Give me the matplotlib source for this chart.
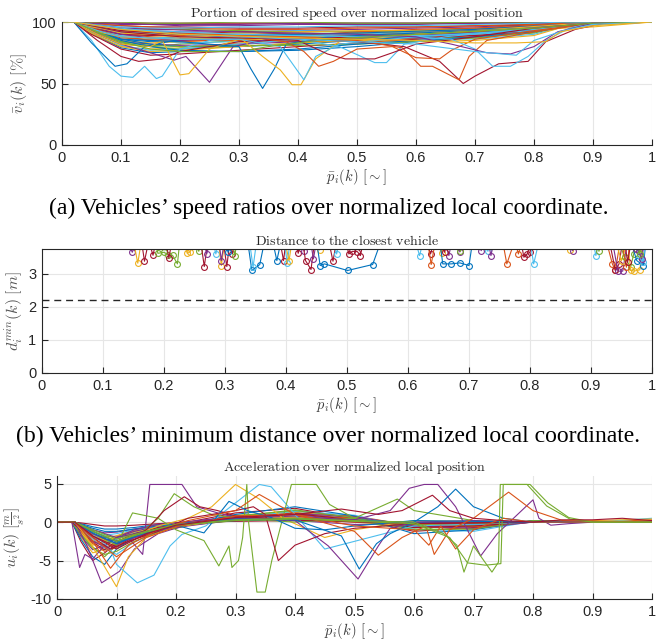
import matplotlib
matplotlib.use('Agg')
import matplotlib.pyplot as plt

plt.rcParams['mathtext.fontset'] = 'cm'
plt.rcParams['axes.unicode_minus'] = False
plt.rcParams['font.family'] = ['Liberation Sans', 'DejaVu Sans']

# MATLAB default colour order
colors = ['#0072BD', '#D95319', '#EDB120', '#7E2F8E', '#77AC30', '#4DBEEE', '#A2142F']

# ---------------- (a) speed ratio [%] ----------------
speed_grid = [0, 0.02, 0.05, 0.1, 0.15, 0.2, 0.3, 0.4, 0.5, 0.6, 0.7, 0.8, 0.85, 0.9, 1.0]
speed_bg = [
    [100, 100, 93, 86, 84, 85, 88, 90, 91, 92, 94, 97, 99, 100, 100],
    [100, 100, 95, 90, 88, 87, 86, 88, 90, 93, 95, 98, 99, 100, 100],
    [100, 100, 90, 80, 78, 79, 83, 86, 88, 90, 93, 96, 98, 99, 100],
    [100, 100, 97, 94, 93, 92, 92, 93, 94, 95, 96, 98, 99, 100, 100],
    [100, 100, 92, 82, 80, 82, 85, 84, 86, 89, 92, 95, 98, 99, 100],
    [100, 100, 94, 88, 85, 83, 84, 87, 89, 88, 90, 94, 97, 99, 100],
    [100, 100, 98, 97, 96, 96, 95, 95, 96, 96, 97, 98, 99, 100, 100],
    [100, 100, 91, 79, 75, 76, 76, 77, 80, 84, 88, 93, 97, 99, 100],
    [100, 100, 96, 92, 90, 89, 90, 91, 90, 89, 90, 95, 98, 99, 100],
    [100, 100, 93, 85, 83, 84, 86, 85, 84, 86, 89, 92, 97, 99, 100],
    [100, 100, 99, 98, 98, 97, 97, 98, 98, 98, 99, 99, 100, 100, 100],
    [100, 100, 92, 83, 80, 78, 80, 83, 86, 88, 87, 91, 96, 99, 100],
    [100, 100, 95, 89, 87, 88, 91, 93, 92, 90, 91, 94, 97, 99, 100],
    [100, 100, 90, 78, 73, 74, 77, 80, 83, 86, 90, 94, 97, 99, 100],
    [100, 100, 97, 93, 91, 90, 89, 88, 87, 88, 91, 95, 98, 99, 100],
    [100, 100, 94, 87, 86, 86, 85, 84, 85, 87, 89, 93, 97, 99, 100],
    [100, 100, 96, 91, 89, 88, 88, 89, 91, 92, 93, 96, 98, 100, 100],
    [100, 100, 93, 84, 82, 81, 82, 84, 87, 89, 91, 93, 97, 99, 100],
    [100, 100, 98, 95, 94, 94, 93, 92, 92, 93, 94, 97, 99, 100, 100],
    [100, 100, 92, 81, 77, 78, 82, 86, 88, 87, 86, 90, 96, 99, 100],
    [100, 100, 95, 90, 89, 90, 92, 90, 88, 87, 89, 93, 97, 99, 100],
    [100, 100, 94, 86, 82, 80, 80, 82, 85, 88, 91, 94, 97, 99, 100],
    [100, 100, 99, 97, 96, 95, 94, 94, 95, 96, 97, 98, 99, 100, 100],
    [100, 100, 91, 80, 76, 77, 80, 83, 85, 84, 85, 89, 96, 99, 100],
    [100, 100, 96, 90, 87, 85, 86, 88, 89, 91, 94, 96, 98, 100, 100],
    [100, 100, 93, 84, 81, 80, 81, 81, 82, 84, 87, 92, 96, 99, 100],
    [100, 100, 97, 94, 92, 91, 90, 90, 89, 89, 90, 93, 97, 99, 100],
    [100, 100, 100, 99, 99, 99, 99, 99, 99, 99, 99, 100, 100, 100, 100],
    [100, 100, 94, 85, 80, 77, 76, 78, 82, 85, 88, 92, 96, 99, 100],
    [100, 100, 95, 88, 85, 84, 86, 89, 92, 94, 95, 97, 99, 100, 100],
    [100, 100, 96, 92, 90, 90, 91, 92, 93, 93, 94, 94, 95, 96, 100],
    [100, 100, 99, 99, 98, 98, 98, 99, 99, 99, 99, 99, 100, 100, 100],
    [100, 100, 100, 100, 99, 99, 100, 100, 99, 99, 100, 100, 100, 100, 100],
    [100, 100, 98, 96, 95, 95, 96, 96, 97, 97, 98, 99, 100, 100, 100],
]

speed_dip_x = [
    [0, 0.02, 0.05, 0.08, 0.1, 0.12, 0.14, 0.16, 0.17, 0.2, 0.25, 0.35, 0.5, 0.7, 0.85, 1],
    [0, 0.02, 0.05, 0.09, 0.11, 0.14, 0.2, 0.3, 0.5, 0.7, 0.85, 1],
    [0, 0.02, 0.06, 0.1, 0.13, 0.17, 0.2, 0.3, 0.5, 0.7, 0.85, 1],
    [0, 0.02, 0.06, 0.1, 0.15, 0.19, 0.21, 0.25, 0.29, 0.35, 0.5, 0.7, 0.85, 1],
    [0, 0.02, 0.06, 0.1, 0.15, 0.17, 0.2, 0.215, 0.25, 0.3, 0.5, 0.7, 0.85, 1],
    [0, 0.02, 0.06, 0.1, 0.2, 0.3, 0.32, 0.34, 0.36, 0.38, 0.45, 0.6, 0.8, 0.9, 1],
    [0, 0.02, 0.06, 0.1, 0.2, 0.3, 0.34, 0.37, 0.39, 0.405, 0.43, 0.47, 0.6, 0.8, 0.9, 1],
    [0, 0.02, 0.06, 0.1, 0.2, 0.3, 0.37, 0.41, 0.43, 0.47, 0.6, 0.8, 0.9, 1],
    [0, 0.02, 0.1, 0.2, 0.3, 0.4, 0.47, 0.53, 0.55, 0.58, 0.65, 0.8, 0.9, 1],
    [0, 0.02, 0.1, 0.2, 0.3, 0.4, 0.5, 0.58, 0.64, 0.68, 0.7, 0.74, 0.79, 0.82, 0.87, 0.92, 1],
    [0, 0.02, 0.1, 0.2, 0.3, 0.4, 0.5, 0.577, 0.608, 0.628, 0.673, 0.69, 0.72, 0.8, 0.9, 1],
    [0, 0.02, 0.1, 0.2, 0.3, 0.38, 0.41, 0.435, 0.46, 0.5, 0.56, 0.6, 0.64, 0.66, 0.7, 0.8, 0.9, 1],
    [0, 0.02, 0.1, 0.2, 0.3, 0.4, 0.45, 0.48, 0.53, 0.56, 0.6, 0.7, 0.8, 0.9, 1],
    [0, 0.02, 0.1, 0.2, 0.3, 0.4, 0.5, 0.6, 0.66, 0.7, 0.73, 0.76, 0.79, 0.82, 0.86, 0.9, 1],
    [0, 0.02, 0.1, 0.3, 0.5, 0.6, 0.66, 0.72, 0.76, 0.8, 0.84, 0.9, 1],
    [0, 0.02, 0.06, 0.1, 0.15, 0.2, 0.3, 0.35, 0.45, 0.6, 0.8, 0.9, 1],
    [0, 0.02, 0.1, 0.2, 0.4, 0.6, 0.7, 0.77, 0.8, 0.85, 0.9, 1],
    [0, 0.02, 0.1, 0.2, 0.4, 0.6, 0.7, 0.77, 0.82, 0.845, 0.9, 1],
]
speed_dip_y = [
    [100, 100, 85, 64, 56, 55, 64, 54, 56, 78, 85, 88, 90, 93, 98, 100],
    [100, 100, 83, 64, 66, 80, 86, 89, 91, 94, 98, 100],
    [100, 100, 85, 72, 68, 70, 76, 84, 88, 92, 97, 100],
    [100, 100, 90, 82, 75, 69, 72, 51, 80, 86, 89, 93, 98, 100],
    [100, 100, 90, 82, 80, 85, 57, 58, 78, 86, 89, 93, 98, 100],
    [100, 100, 92, 86, 84, 80, 62, 46, 62, 82, 88, 91, 95, 99, 100],
    [100, 100, 92, 88, 86, 88, 72, 61, 49, 49, 70, 84, 90, 95, 99, 100],
    [100, 100, 93, 88, 86, 86, 80, 53, 72, 82, 88, 94, 98, 100],
    [100, 100, 92, 90, 89, 86, 80, 67, 67, 82, 88, 95, 99, 100],
    [100, 100, 92, 88, 87, 86, 84, 80, 68, 50, 56, 66, 68, 84, 94, 99, 100],
    [100, 100, 93, 90, 89, 88, 85, 79, 64, 64, 53, 72, 85, 92, 99, 100],
    [100, 100, 94, 91, 89, 84, 76, 64, 68, 78, 80, 71, 70, 77, 86, 93, 99, 100],
    [100, 100, 93, 90, 88, 85, 74, 70, 70, 75, 82, 88, 95, 99, 100],
    [100, 100, 94, 92, 90, 89, 88, 88, 86, 78, 64, 64, 72, 85, 95, 99, 100],
    [100, 100, 95, 92, 90, 88, 82, 75, 74, 80, 92, 99, 100],
    [100, 100, 92, 84, 78, 76, 76, 80, 86, 90, 95, 99, 100],
    [100, 100, 95, 90, 86, 82, 76, 73, 85, 93, 98, 100],
    [100, 100, 94, 90, 87, 85, 83, 83, 84, 92, 97, 100],
]
speed_dip_color = [5, 0, 6, 3, 2, 0, 2, 5, 5, 6, 1, 1, 6, 5, 3, 4, 5, 2]

# ---------------- (b) minimum distance [m] ----------------
dist_x = [
    [0.14, 0.148, 0.155], [0.15, 0.157, 0.163], [0.163, 0.168, 0.175, 0.182, 0.187],
    [0.185, 0.19, 0.2, 0.207, 0.214, 0.222, 0.226], [0.203, 0.208, 0.213],
    [0.232, 0.238, 0.243, 0.248], [0.252, 0.257, 0.262], [0.26, 0.266, 0.272],
    [0.265, 0.27, 0.276], [0.28, 0.285, 0.29], [0.289, 0.294, 0.3], [0.29, 0.294, 0.299],
    [0.297, 0.303, 0.308, 0.312, 0.317], [0.312, 0.316, 0.32], [0.3, 0.305, 0.31],
    [0.337, 0.344, 0.357, 0.365], [0.34, 0.346, 0.352], [0.378, 0.385, 0.392],
    [0.39, 0.396, 0.4], [0.397, 0.402, 0.407], [0.398, 0.405, 0.41], [0.415, 0.42, 0.425],
    [0.425, 0.43, 0.435], [0.427, 0.432, 0.441, 0.447], [0.44, 0.445, 0.45],
    [0.45, 0.455, 0.46], [0.45, 0.456, 0.463, 0.501, 0.542, 0.556], [0.47, 0.477, 0.483],
    [0.478, 0.483, 0.488], [0.498, 0.503, 0.509, 0.517, 0.522, 0.527],
    [0.612, 0.619, 0.625], [0.63, 0.637, 0.643], [0.632, 0.638, 0.645], [0.648, 0.655, 0.66],
    [0.652, 0.657, 0.671, 0.685, 0.7, 0.706], [0.66, 0.667, 0.672], [0.655, 0.66, 0.665],
    [0.68, 0.685, 0.69], [0.681, 0.686, 0.691], [0.714, 0.72, 0.725], [0.725, 0.731, 0.736],
    [0.731, 0.736, 0.741], [0.755, 0.762, 0.775, 0.781, 0.787],
    [0.785, 0.79, 0.795, 0.8, 0.805], [0.8, 0.806, 0.815], [0.86, 0.865, 0.87],
    [0.865, 0.87, 0.875], [0.903, 0.908, 0.913], [0.91, 0.913, 0.918],
    [0.925, 0.935, 0.94, 0.948], [0.93, 0.94, 0.946, 0.952], [0.935, 0.944, 0.952, 0.96],
    [0.94, 0.95, 0.96], [0.945, 0.955, 0.965, 0.97, 0.975], [0.96, 0.965, 0.97, 0.98, 0.985],
    [0.965, 0.975, 0.986, 0.99], [0.97, 0.98, 0.985, 0.99], [0.965, 0.973, 0.978, 0.983, 0.988],
    [0.95, 0.958, 0.965], [0.955, 0.96, 0.966], [0.975, 0.98, 0.985],
]
dist_y = [
    [4, 3.65, 4], [4, 3.32, 4], [4, 3.38, 4, 3.56, 4],
    [4, 3.62, 3.65, 3.58, 3.56, 3.3, 4], [4, 3.47, 4],
    [4, 3.62, 3.66, 4], [4, 3.68, 4], [4, 3.22, 4],
    [4, 3.6, 4], [4, 3.6, 4], [4, 3.25, 4], [4, 3.4, 4],
    [4, 3.22, 4, 3.6, 4], [4, 3.55, 4], [4, 3.65, 4],
    [4, 3.1, 3.28, 4], [4, 3.2, 4], [4, 3.4, 4],
    [4, 3.4, 4], [4, 3.33, 4], [4, 3.4, 4], [4, 3.62, 4],
    [4, 3.68, 4], [4, 3.4, 3.13, 4], [4, 3.45, 4],
    [4, 3.72, 4], [4, 3.25, 3.3, 3.1, 3.28, 4], [4, 3.38, 4],
    [4, 3.6, 4], [4, 3.6, 3.68, 3.67, 3.55, 4],
    [4, 3.55, 4], [4, 3.6, 4], [4, 3.28, 4], [4, 3.62, 4],
    [4, 3.3, 3.3, 3.33, 3.25, 4], [4, 3.55, 4], [4, 3.65, 4],
    [4, 3.66, 4], [4, 3.68, 4], [4, 3.7, 4], [4, 3.68, 4],
    [4, 3.55, 4], [4, 3.3, 4, 3.6, 4],
    [4, 3.5, 3.6, 3.65, 4], [4, 3.3, 4], [4, 3.73, 4],
    [4, 3.7, 4], [4, 3.55, 4], [4, 3.68, 4],
    [4, 3.3, 3.1, 4], [4, 3.1, 3.3, 4], [4, 3.08, 3.08, 4],
    [4, 3.4, 4], [4, 3.5, 3.2, 3.6, 4], [4, 3.1, 3.08, 3.12, 4],
    [4, 3.4, 3.25, 4], [4, 3.55, 3.35, 4], [4, 3.75, 3.7, 3.45, 4],
    [4, 3.2, 4], [4, 3.35, 4], [4, 3.6, 4],
]
dist_color = [3, 2, 6, 4, 6, 2, 4, 6, 3, 5, 2, 3, 6, 4, 0, 0, 5, 0, 6, 5, 2, 6, 3, 6, 3,
              2, 0, 6, 5, 6, 5, 6, 1, 2, 0, 3, 6, 3, 4, 3, 5, 3, 1, 6, 5, 2, 3, 5, 4,
              1, 6, 3, 2, 4, 2, 0, 5, 3, 1, 6, 4]
d_safe = 2.2

# ---------------- (c) acceleration [m/s^2] ----------------
acc_grid = [0, 0.025, 0.04, 0.06, 0.08, 0.1, 0.13, 0.17, 0.22, 0.3, 0.4, 0.5, 0.6, 0.7, 0.8, 0.9, 1.0]
acc_bg = [
    [0, 0, -1.0, -2.5, -3.0, -2.2, -1.3, -0.6, -0.1, 0.5, 0.8, 0.2, -0.6, -0.4, 0, 0, 0],
    [0, 0, -0.5, -1.5, -2.0, -1.8, -1.1, -0.5, 0, 0.4, 0.5, 0.1, -0.3, -0.2, 0, 0, 0],
    [0, 0, -2.0, -4.0, -3.5, -2.5, -1.5, -0.8, -0.2, 0.9, 1.3, 0.3, -0.8, -0.5, 0.1, 0, 0],
    [0, 0, -0.3, -1.0, -1.4, -1.3, -0.9, -0.4, 0, 0.3, 0.4, 0.2, -0.2, -0.1, 0, 0, 0],
    [0, 0, -1.5, -3.2, -4.5, -3.0, -1.8, -0.9, -0.3, 0.7, 1.6, 0.5, -1.0, -0.8, 0.2, 0, 0.2],
    [0, 0, -0.8, -2.0, -2.6, -2.2, -1.4, -0.7, -0.2, 0.3, 0.9, 0.6, -0.4, -0.6, 0, 0, 0],
    [0, 0, -2.5, -5.0, -4.0, -2.8, -1.6, -0.7, 0, 1.2, 1.8, 0.4, -1.2, -0.7, 0.2, 0, 0],
    [0, 0, -0.2, -0.6, -0.9, -0.9, -0.7, -0.3, 0, 0.2, 0.3, 0.1, -0.1, -0.1, 0, 0, 0],
    [0, 0, -1.2, -2.8, -3.8, -3.3, -2.2, -1.2, -0.4, 0.6, 1.2, 0.8, -0.5, -0.9, 0.1, 0, 0],
    [0, 0, -0.6, -1.8, -2.4, -2.0, -1.3, -0.6, -0.1, 0.5, 0.6, 0.0, -0.6, -0.3, 0, 0, 0],
    [0, 0, -1.8, -3.6, -3.0, -2.0, -1.2, -0.5, 0, 0.8, 1.0, 0.2, -0.5, -0.3, 0, 0, 0],
    [0, 0, -0.4, -1.2, -1.8, -1.9, -1.6, -1.0, -0.4, 0.2, 0.6, 0.4, -0.2, -0.4, 0, 0, 0],
    [0, 0, -1.0, -2.2, -3.4, -4.2, -2.6, -1.2, -0.3, 0.6, 1.4, 0.9, -0.9, -1.2, 0.1, 0, 0],
    [0, 0, -0.1, -0.3, -0.5, -0.5, -0.4, -0.2, 0, 0.1, 0.2, 0.1, 0, 0, 0, 0, 0],
    [0, 0, -2.2, -4.5, -5.5, -3.5, -2.0, -1.0, -0.3, 1.0, 2.0, 0.8, -1.5, -1.0, 0.2, 0, 0],
    [0, 0, -0.9, -2.4, -3.2, -2.9, -2.0, -1.0, -0.3, 0.4, 1.0, 0.5, -0.7, -0.6, 0, 0, 0.3],
    [0, 0, -1.4, -3.0, -2.6, -1.8, -1.0, -0.4, 0, 0.6, 0.7, 0.1, -0.4, -0.2, 0, 0, 0],
    [0, 0, -0.7, -1.6, -2.2, -2.4, -2.0, -1.2, -0.5, 0.3, 1.1, 0.7, -0.5, -0.8, 0, 0, 0],
    [0, 0, -1.6, -3.4, -4.2, -3.8, -2.5, -1.3, -0.4, 0.8, 1.5, 0.6, -1.0, -0.9, 0.2, 0, 0],
    [0, 0, -0.5, -1.3, -1.7, -1.5, -1.0, -0.5, -0.1, 0.3, 0.5, 0.3, -0.2, -0.3, 0, 0, 0.5],
    [0, 0, -1.1, -2.6, -3.6, -2.6, -1.5, -0.7, -0.1, 0.7, 1.1, 0.3, -0.7, -0.5, 0, 0, 0],
    [0, 0, -0.3, -0.8, -1.2, -1.2, -0.9, -0.5, -0.1, 0.2, 0.4, 0.3, -0.1, -0.2, 0, 0, 0],
]

acc_peak_x = [
    [0, 0.025, 0.038, 0.047, 0.06, 0.08, 0.1, 0.13, 0.17, 0.25, 0.4, 0.6, 0.8, 1],
    [0, 0.03, 0.05, 0.075, 0.105, 0.13, 0.17, 0.22, 0.3, 0.4, 0.5, 0.6, 0.8, 1],
    [0, 0.03, 0.06, 0.09, 0.12, 0.144, 0.156, 0.21, 0.235, 0.27, 0.3, 0.4, 0.5, 0.6, 0.8, 1],
    [0, 0.03, 0.05, 0.07, 0.1, 0.12, 0.15, 0.2, 0.3, 0.4, 0.5, 0.6, 0.8, 1],
    [0, 0.03, 0.06, 0.09, 0.12, 0.17, 0.22, 0.26, 0.3, 0.34, 0.38, 0.45, 0.5, 0.6, 0.8, 1],
    [0, 0.03, 0.06, 0.09, 0.1, 0.135, 0.163, 0.19, 0.21, 0.25, 0.3, 0.34, 0.36, 0.4, 0.45, 0.5, 0.6, 0.8, 1],
    [0, 0.03, 0.06, 0.1, 0.127, 0.17, 0.2, 0.247, 0.272, 0.289, 0.294, 0.305, 0.312, 0.319, 0.322,
     0.336, 0.35, 0.361, 0.394, 0.436, 0.458, 0.5, 0.55, 0.6, 0.8, 1],
    [0, 0.03, 0.06, 0.1, 0.14, 0.17, 0.197, 0.23, 0.26, 0.3, 0.4, 0.5, 0.572, 0.6, 0.7, 0.8, 1],
    [0, 0.03, 0.06, 0.09, 0.12, 0.17, 0.22, 0.3, 0.33, 0.35, 0.372, 0.4, 0.45, 0.5, 0.6, 0.8, 1],
    [0, 0.03, 0.06, 0.1, 0.15, 0.18, 0.214, 0.24, 0.27, 0.3, 0.35, 0.4, 0.5, 0.6, 0.8, 1],
    [0, 0.03, 0.06, 0.1, 0.15, 0.2, 0.3, 0.4, 0.456, 0.506, 0.54, 0.56, 0.6, 0.7, 0.8, 1],
    [0, 0.03, 0.06, 0.1, 0.15, 0.2, 0.3, 0.4, 0.5, 0.56, 0.592, 0.617, 0.64, 0.67, 0.712, 0.74,
     0.8, 0.81, 0.83, 0.86, 0.9, 1],
    [0, 0.03, 0.06, 0.1, 0.15, 0.2, 0.3, 0.4, 0.478, 0.508, 0.537, 0.56, 0.6, 0.64, 0.67, 0.7, 0.75, 0.8, 1],
    [0, 0.03, 0.06, 0.1, 0.15, 0.2, 0.247, 0.289, 0.32, 0.36, 0.4, 0.45, 0.5, 0.6, 0.8, 1],
    [0, 0.03, 0.06, 0.1, 0.15, 0.2, 0.3, 0.4, 0.5, 0.54, 0.58, 0.62, 0.634, 0.66, 0.7, 0.759, 0.8, 0.85, 1],
    [0, 0.03, 0.06, 0.09, 0.12, 0.17, 0.22, 0.3, 0.34, 0.4, 0.5, 0.6, 0.625, 0.645, 0.67, 0.7, 0.75, 0.8, 1],
    [0, 0.03, 0.06, 0.1, 0.15, 0.2, 0.3, 0.4, 0.5, 0.6, 0.65, 0.672, 0.684, 0.7, 0.731, 0.742, 0.745,
     0.79, 0.823, 0.862, 0.9, 1],
    [0, 0.03, 0.06, 0.1, 0.15, 0.2, 0.3, 0.4, 0.5, 0.6, 0.66, 0.69, 0.72, 0.746, 0.75, 0.795, 0.825,
     0.86, 0.9, 1],
    [0, 0.03, 0.06, 0.1, 0.15, 0.2, 0.3, 0.4, 0.478, 0.54, 0.58, 0.631, 0.66, 0.7, 0.75, 0.8, 0.85,
     0.9, 0.95, 1],
]
acc_peak_y = [
    [0, 0, -5.9, -4.2, -4.8, -3.0, -2.0, -1.0, -0.3, 0.3, 0.8, -0.4, 0, 0],
    [0, 0, -3.0, -7.9, -6.4, -3.5, -1.5, -0.3, 0.5, 0.6, 0.2, -0.3, 0, 0],
    [0, 0, -2.5, -3.5, -2.0, -4.2, 4.9, 4.9, 2.0, 1.2, 0.6, 0.2, -0.3, -0.2, 0, 0],
    [0, 0, -2.0, -4.5, -8.4, -4.5, -2.0, -0.6, 0.4, 0.6, 0.1, -0.3, 0, 0.4],
    [0, 0, -1.5, -3.0, -2.0, -0.5, 0.5, 2.0, 4.9, 3.0, 0.5, -2.0, -1.0, 0.2, 0, 0],
    [0, 0, -1.5, -3.5, -5.5, -7.9, -6.9, -3.1, -1.6, -0.5, 2.5, 4.9, 4.6, 1.0, -3.5, -2.5, -0.5, 0, 0],
    [0, 0, -1.5, -3.0, 1.2, 0.5, -1.0, -2.4, -5.7, -3.1, -5.9, -5.0, -2.0, 4.9, 0.0,
     -9.1, -9.1, -5.0, 4.9, 4.9, 2.3, 0.5, -0.5, -0.3, 0, 0],
    [0, 0, -1.2, -2.5, -1.5, 0.5, 3.7, 2.0, 1.0, 0.5, 0.0, 0.5, 3.0, 1.5, 0.2, 0, 0],
    [0, 0, -2.0, -3.5, -2.5, -1.2, 0.5, 1.5, 2.0, 1.0, -5.0, -3.0, -1.5, -0.8, -0.2, 0, 0],
    [0, 0, -1.8, -3.2, -1.0, 1.5, 3.3, 2.0, 1.5, 0.8, 0.5, 0.3, 0, -0.2, 0, 0],
    [0, 0, -1.5, -2.8, -1.5, -0.5, 0.5, 0.2, -3.1, -7.4, -3.1, -0.8, 0, 0.2, 0, 0],
    [0, 0, -1.0, -2.0, -1.2, -0.3, 0.3, 0.5, 0.3, 1.5, 4.4, 4.9, 4.9, 2.0, -4.4, -1.5,
     2.9, 0.5, -0.4, -0.2, 0, 0],
    [0, 0, -1.2, -2.6, -1.4, -0.4, 0.4, 0.3, -1.8, -6.1, -2.8, -1.5, 0, 2.0, 4.3, 2.0, 0.5, 0, 0],
    [0, 0, -1.4, -2.8, -1.3, -0.4, -1.4, 2.7, 1.5, 0.6, -0.8, -1.0, -0.5, 0.2, 0, 0],
    [0, 0, -2.0, -4.5, -2.0, -0.6, 0.8, 1.0, -1.2, -4.3, -2.0, -0.5, -4.2, -1.0, 0.5, 3.9, 1.5, 0.2, 0],
    [0, 0, -2.5, -6.0, -3.0, -1.0, 0.2, 1.5, 3.6, 1.0, -0.5, -1.0, -3.0, -0.5, -3.5, -1.0, 0.5, 0, 0],
    [0, 0, -1.0, -2.2, -1.2, -0.3, 0.3, 0.5, 0.2, 0, -1.5, -3.0, -6.5, -3.1, -6.5, -5.2, 4.9,
     4.9, 2.1, 0.4, 0, 0],
    [0, 0, -1.2, -2.5, -1.3, -0.4, 0.2, 0.4, 0.1, -0.2, -2.0, -5.3, -5.6, -5.4, 4.9, 4.9, 2.5,
     0.6, 0, 0],
    [0, 0, -1.8, -3.5, -1.5, -0.4, 0.6, 1.0, 1.7, 1.0, 1.5, 3.5, 1.5, 0.5, 0.2, 0, 0.3,
     0.3, 0.5, 0.2],
]
acc_peak_color = [3, 3, 3, 2, 2, 5, 4, 4, 6, 6, 3, 3, 0, 0, 1, 1, 4, 4, 6]

xticks = [0, 0.1, 0.2, 0.3, 0.4, 0.5, 0.6, 0.7, 0.8, 0.9, 1]
xtick_labels = ['0', '0.1', '0.2', '0.3', '0.4', '0.5', '0.6', '0.7', '0.8', '0.9', '1']

titles = ['Portion of desired speed over normalized local position',
          'Distance to the closest vehicle',
          'Acceleration over normalized local position']
captions = ['(a) Vehicles\u2019 speed ratios over normalized local coordinate.',
            '(b) Vehicles\u2019 minimum distance over normalized local coordinate.']
xlabel = r'$\bar{p}_i(k)\ [\sim]$'
ylabels = [r'$\bar{v}_i(k)\ [\%]$', r'$d_i^{min}(k)\ [m]$',
           r'$u_i(k)\ [\frac{m}{s^2}]$']

RIGHT = 652  # right edge of the axes in pixels


def style_axes(ax, title, ylabel, box=False):
    ax.set_xlim(0, 1)
    ax.set_xticks(xticks)
    ax.set_xticklabels(xtick_labels)
    ax.grid(True, color='#e6e6e6', lw=0.8)
    ax.set_axisbelow(True)
    ax.tick_params(direction='in', length=4, width=0.8, colors='#262626', labelsize=10.5,
                   pad=4, top=False, right=False)
    for s in ['left', 'bottom']:
        ax.spines[s].set_color('#262626')
        ax.spines[s].set_linewidth(0.8)
    for s in ['top', 'right']:
        ax.spines[s].set_visible(box)
        ax.spines[s].set_color('#262626')
        ax.spines[s].set_linewidth(0.8)
    ax.set_title(r'$\mathrm{' + title.replace(' ', r'\ ') + '}$', fontsize=10.1,
                 color='#262626', pad=3)
    ax.set_xlabel(xlabel, fontsize=10.5, color='#404040', labelpad=2)
    ax.set_ylabel(ylabel, fontsize=11.5, color='#555555', labelpad=2)


fig = plt.figure(figsize=(6.58, 6.43), dpi=100)

# (a)
ax1 = fig.add_axes([62 / 658, 1 - 145 / 643, (RIGHT - 62) / 658, 123 / 643])
for i, ys in enumerate(speed_bg):
    ax1.plot(speed_grid, ys, color=colors[i % 7], lw=0.8)
for xs, ys, c in zip(speed_dip_x, speed_dip_y, speed_dip_color):
    ax1.plot(xs, ys, color=colors[c], lw=0.8)
ax1.set_ylim(0, 100)
ax1.set_yticks([0, 50, 100])
style_axes(ax1, titles[0], ylabels[0])

# (b)
ax2 = fig.add_axes([42 / 658, 1 - 373 / 643, (RIGHT - 42) / 658, 124 / 643])
for xs, ys, c in zip(dist_x, dist_y, dist_color):
    ax2.plot(xs, ys, '-o', color=colors[c], lw=0.8, ms=4.2, mfc='none', mew=0.8)
ax2.axhline(d_safe, color='#262626', lw=1.0, ls=(0, (5, 3.5)))
ax2.set_ylim(0, 3.75)
ax2.set_yticks([0, 1, 2, 3])
style_axes(ax2, titles[1], ylabels[1], box=True)

# (c)
ax3 = fig.add_axes([57 / 658, 1 - 599 / 643, (RIGHT - 57) / 658, 123 / 643])
for i, ys in enumerate(acc_bg):
    ax3.plot(acc_grid, ys, color=colors[i % 7], lw=0.8)
for xs, ys, c in zip(acc_peak_x, acc_peak_y, acc_peak_color):
    ax3.plot(xs, ys, color=colors[c], lw=0.8)
ax3.set_ylim(-10, 6)
ax3.set_yticks([-10, -5, 0, 5])
style_axes(ax3, titles[2], ylabels[2])

fig.text(329 / 658, 1 - 208 / 643, captions[0], ha='center', va='center',
         fontsize=17, family='Liberation Serif')
fig.text(328 / 658, 1 - 436 / 643, captions[1], ha='center', va='center',
         fontsize=17, family='Liberation Serif')

fig.savefig('out.png', dpi=100)
